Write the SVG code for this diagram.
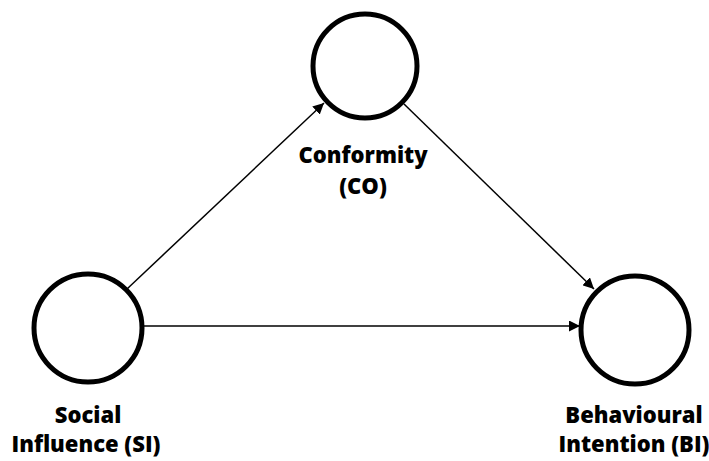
<svg xmlns="http://www.w3.org/2000/svg" width="709" height="461" viewBox="0 0 709 461">
  <style>
    .node circle { fill: #ffffff; stroke: #000000; stroke-width: 5; }
    .label { font-family: "Open Sans", "Noto Sans", sans-serif; font-weight: 800; font-size: 22px; fill: #000000; text-anchor: middle; }
    .edge { stroke: #000000; stroke-width: 1.5; fill: none; marker-end: url(#arrow); }
  </style>
  <defs>
    <marker id="arrow" viewBox="0 0 10 10" refX="10" refY="5" markerWidth="11" markerHeight="11" markerUnits="userSpaceOnUse" orient="auto">
      <path d="M0,0 L10,5 L0,10 Z" fill="#000000"/>
    </marker>
  </defs>

  <g id="connectors">
    <line class="edge" x1="127" y1="289" x2="324" y2="103"/>
    <line class="edge" x1="404" y1="104" x2="594" y2="289"/>
    <line class="edge" x1="143" y1="326" x2="580" y2="326"/>
  </g>

  <g id="node-co" class="node">
    <circle cx="365" cy="66" r="52"/>
    <text class="label" x="363" y="163">Conformity</text>
    <text class="label" x="363" y="194">(CO)</text>
  </g>

  <g id="node-si" class="node">
    <circle cx="88" cy="328" r="54"/>
    <text class="label" x="88" y="423">Social</text>
    <text class="label" x="86" y="452">Influence (SI)</text>
  </g>

  <g id="node-bi" class="node">
    <circle cx="635" cy="330" r="54"/>
    <text class="label" x="634" y="423">Behavioural</text>
    <text class="label" x="634" y="452">Intention (BI)</text>
  </g>
</svg>
